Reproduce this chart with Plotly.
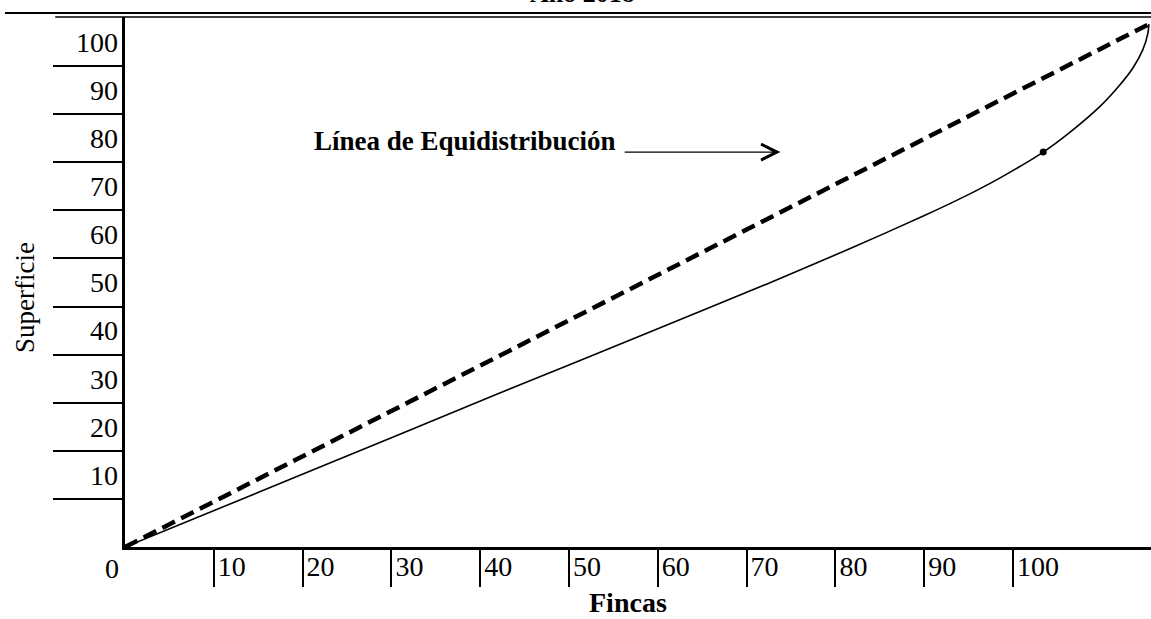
import plotly.graph_objects as go

# ---- data ----
fincas_pct = [0, 19.7, 42.2, 59.1, 72.3, 81.6, 89.9, 94.8, 98.5, 103.4, 106.4, 109.8, 112.0, 113.5, 114.6, 115.2, 115.3]
superficie_pct = [0, 14.9, 32.0, 44.7, 54.7, 62.0, 68.8, 73.1, 76.7, 82.1, 86.2, 91.6, 96.0, 99.6, 103.3, 106.9, 108.7]
equi_x = [0, 115.3]
equi_y = [0, 108.7]
marked_point_x = [103.4]
marked_point_y = [82.1]
tick_values = [10, 20, 30, 40, 50, 60, 70, 80, 90, 100]
tick_labels = ["10", "20", "30", "40", "50", "60", "70", "80", "90", "100"]

X_RANGE = [0, 115.54]
Y_RANGE = [0, 110.19]
FONT = "Liberation Serif"

fig = go.Figure()

fig.add_trace(go.Scatter(
    x=equi_x, y=equi_y, mode="lines",
    line=dict(color="black", width=4.5, dash="14px,7px"),
    showlegend=False, hoverinfo="skip", cliponaxis=False,
))
fig.add_trace(go.Scatter(
    x=fincas_pct, y=superficie_pct, mode="lines",
    line=dict(color="black", width=1.6, shape="spline", smoothing=0.6),
    showlegend=False, hoverinfo="skip", cliponaxis=False,
))
fig.add_trace(go.Scatter(
    x=marked_point_x, y=marked_point_y, mode="markers",
    marker=dict(color="black", size=7),
    showlegend=False, hoverinfo="skip",
))
# invisible trace to carry the label axes
fig.add_trace(go.Scatter(x=[None], y=[None], xaxis="x2", yaxis="y2",
                         showlegend=False, hoverinfo="skip"))

fig.update_layout(
    width=1151, height=619,
    margin=dict(l=125, r=0, t=17, b=72),
    paper_bgcolor="white", plot_bgcolor="white",
    font=dict(family=FONT, color="black", size=27),
    xaxis=dict(range=X_RANGE, showgrid=False, zeroline=False,
               showline=True, linecolor="black", linewidth=3,
               ticks="outside", ticklen=37, tickwidth=1.5, tickcolor="black",
               tickvals=tick_values, showticklabels=False),
    yaxis=dict(range=Y_RANGE, showgrid=False, zeroline=False,
               showline=True, linecolor="black", linewidth=3,
               ticks="outside", ticklen=69, tickwidth=1.5, tickcolor="black",
               tickvals=tick_values, showticklabels=False),
    xaxis2=dict(range=X_RANGE, overlaying="x", anchor="y", side="bottom",
                showgrid=False, zeroline=False, showline=False, ticks="",
                tickvals=tick_values, ticktext=tick_labels,
                ticklabelposition="outside right", ticklabelshift=4,
                tickfont=dict(family=FONT, size=28, color="black")),
    yaxis2=dict(range=Y_RANGE, overlaying="y", anchor="x", side="left",
                showgrid=False, zeroline=False, showline=False, ticks="",
                tickvals=tick_values, ticktext=tick_labels,
                ticklabelshift=-24, ticklabelstandoff=6,
                tickfont=dict(family=FONT, size=28, color="black")),
    showlegend=False,
)

# top border lines
fig.add_shape(type="line", xref="paper", yref="paper",
              x0=-0.117, x1=1.0, y0=1.0075, y1=1.0075,
              line=dict(color="black", width=2))
fig.add_shape(type="line", xref="paper", yref="paper",
              x0=-0.068, x1=1.0, y0=1.0, y1=1.0,
              line=dict(color="black", width=1.5))

# texts
fig.add_annotation(text="<b>Año 2018</b>", xref="paper", yref="paper",
                   x=0.446, y=1.013, xanchor="center", yanchor="bottom",
                   showarrow=False, font=dict(family=FONT, size=26))
fig.add_annotation(text="0", xref="x", yref="y", x=0, y=0,
                   xshift=-13, yshift=-21, showarrow=False,
                   font=dict(family=FONT, size=28))
fig.add_annotation(text="Superficie", xref="paper", yref="paper",
                   x=-0.0975, y=0.4717, textangle=-90,
                   xanchor="center", yanchor="middle", showarrow=False,
                   font=dict(family=FONT, size=27))
fig.add_annotation(text="<b>Fincas</b>", xref="paper", yref="paper",
                   x=0.490, y=-0.104, xanchor="center", yanchor="middle",
                   showarrow=False, font=dict(family=FONT, size=28))
fig.add_annotation(text="<b>Línea de Equidistribución</b>", xref="paper", yref="paper",
                   x=0.1823, y=0.766, xanchor="left", yanchor="middle",
                   showarrow=False, font=dict(family=FONT, size=27))
fig.add_annotation(text="", xref="x", yref="y", x=73.8, y=82.1,
                   axref="x", ayref="y", ax=56.1, ay=82.1,
                   showarrow=True, arrowhead=5, arrowsize=2.6, arrowwidth=1.2,
                   arrowcolor="black")

fig.write_html("out.html", config={"displayModeBar": False},
               post_script="document.body.style.margin='0';document.body.style.overflow='hidden';")
